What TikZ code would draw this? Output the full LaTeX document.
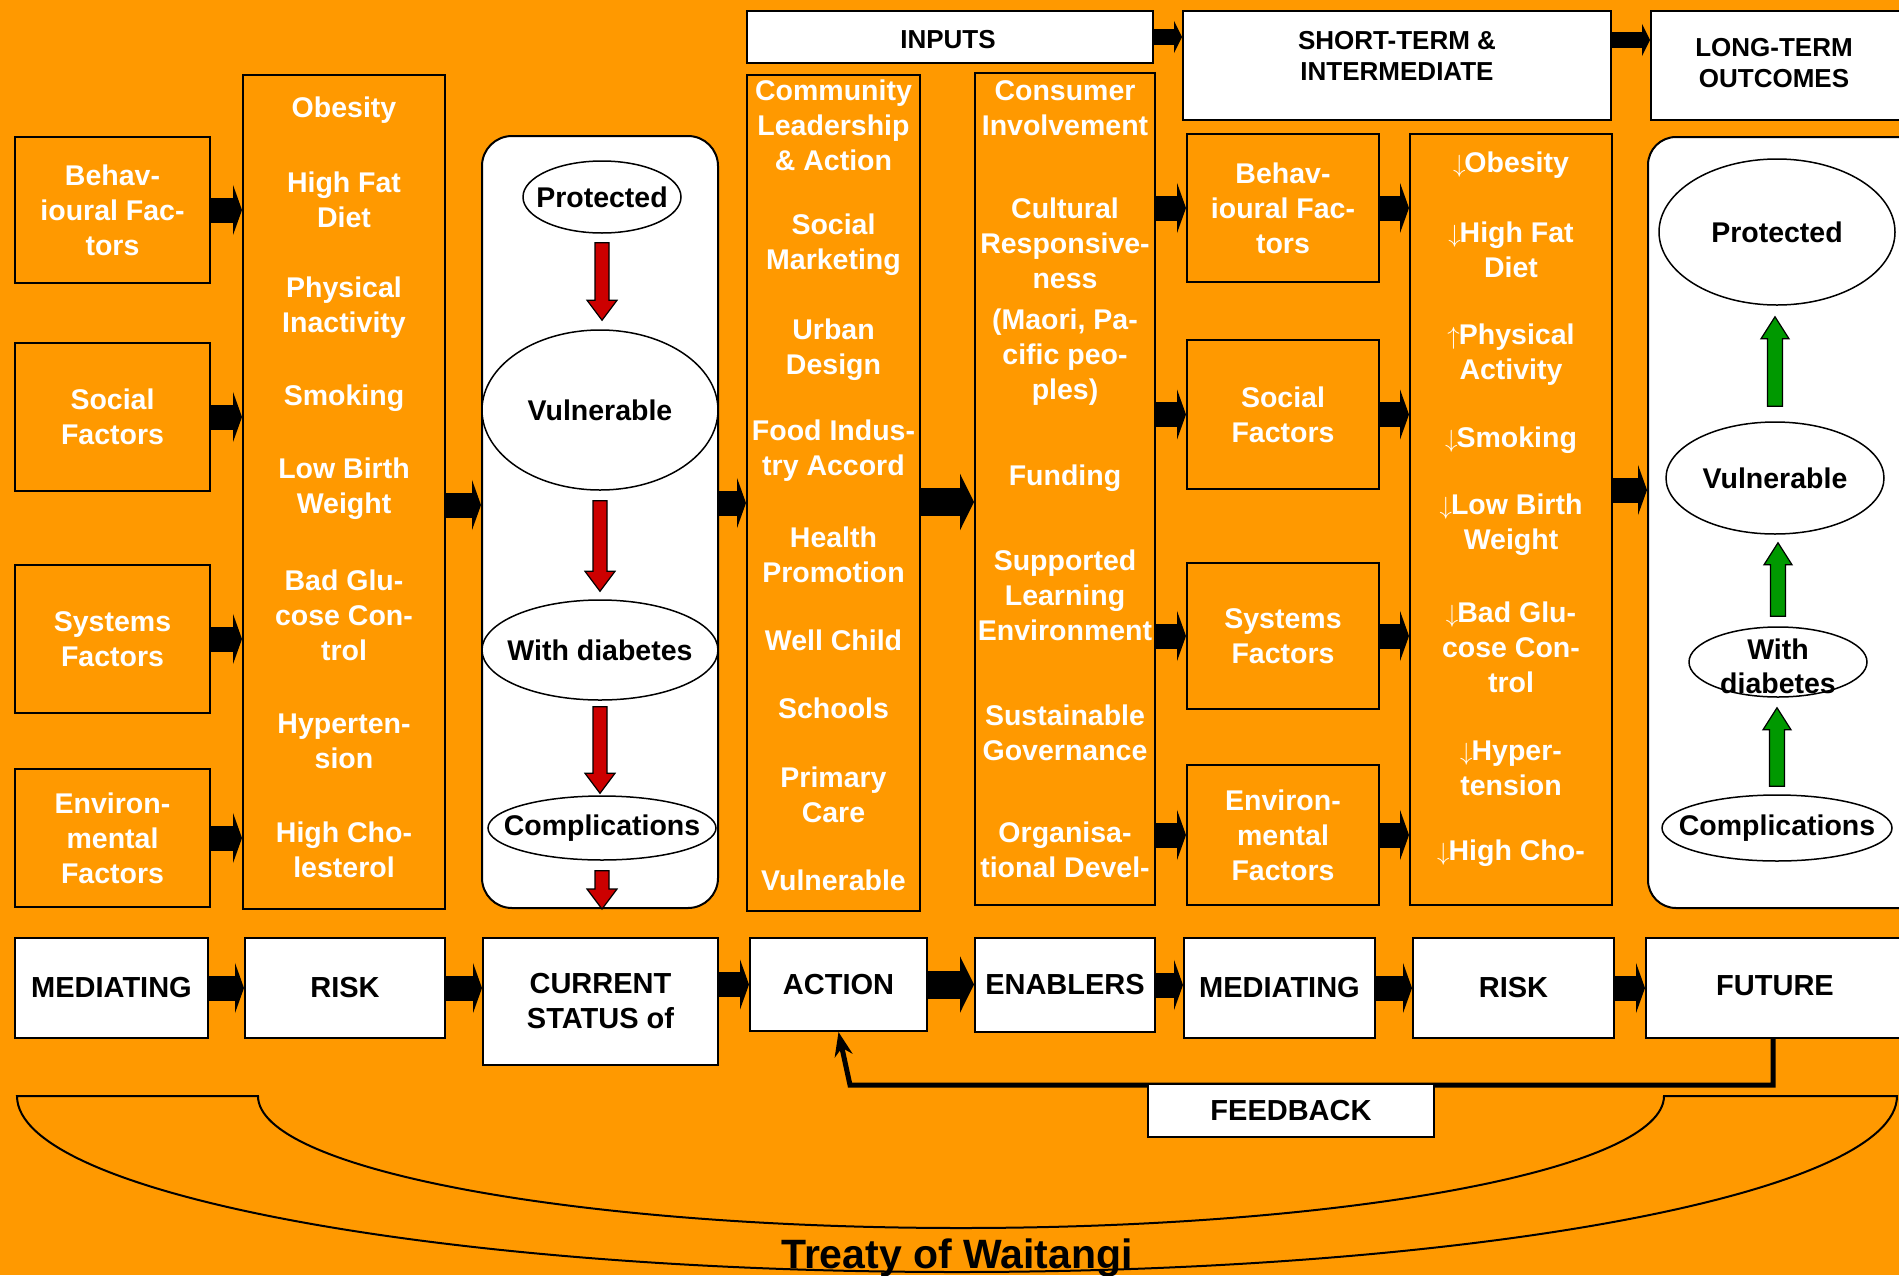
\documentclass[tikz,border=0pt]{standalone}
\usepackage{fontspec}
\setmainfont{Liberation Sans}
\usetikzlibrary{arrows.meta,shapes.geometric,calc}
\definecolor{bg}{RGB}{255,153,0}
\definecolor{redar}{RGB}{204,0,0}
\definecolor{greenar}{RGB}{0,153,0}
\newcommand\fsz[2]{\fontsize{#1}{#2}\selectfont}
\newcommand\myDn{\(\downarrow\)\kern-1pt}
\newcommand\myUp{\(\uparrow\)\kern-1pt}
\newcommand\redarrow[2]{%
  \draw[line width=1.2pt, fill=redar] let \p1=#1, \p2=#2 in
    (\x1-7pt,\y1) -- (\x1-7pt,\y2+20pt) -- (\x1-15pt,\y2+20pt) -- (\x1,\y2)
    -- (\x1+15pt,\y2+20pt) -- (\x1+7pt,\y2+20pt) -- (\x1+7pt,\y1) -- cycle;}
\newcommand\greenarrow[2]{%
  \draw[line width=1.2pt, fill=greenar] let \p1=#1, \p2=#2 in
    (\x1-7.5pt,\y1) -- (\x1-7.5pt,\y2-22pt) -- (\x1-14pt,\y2-22pt) -- (\x1,\y2)
    -- (\x1+14pt,\y2-22pt) -- (\x1+7.5pt,\y2-22pt) -- (\x1+7.5pt,\y1) -- cycle;}
\begin{document}
\begin{tikzpicture}[x=1pt,y=-1pt,
  obox/.style={draw, line width=2pt, fill=bg, inner sep=0pt, text=white, font=\bfseries\fsz{28.5}{35}, align=center},
  wbox/.style={draw, line width=2pt, fill=white, inner sep=0pt, font=\bfseries\fsz{29}{35}, align=center},
  wt/.style={text=white, font=\bfseries\fsz{28.5}{35}, align=center, inner sep=0pt},
  bt/.style={text=black, font=\bfseries\fsz{28.5}{35}, align=center, inner sep=0pt},
  ht/.style={text=black, font=\bfseries\fsz{26}{31}, align=center, inner sep=0pt},
  ell/.style={ellipse, draw, line width=1.5pt, fill=white, inner sep=0pt},
  capsule/.style={draw, line width=2pt, fill=white, rounded corners=30pt, inner sep=0pt},
  blk/.style={line width=25pt, -{Triangle[length=9pt,width=50pt]}},
  blks/.style={line width=16pt, -{Triangle[length=8pt,width=32pt]}},
  blkb/.style={line width=28pt, -{Triangle[length=14pt,width=56pt]}},
  fbl/.style={line width=5pt, -{Stealth[length=24pt,width=18pt]}}]
\useasboundingbox (0,0) rectangle (1899,1275);
\clip (0,0) rectangle (1899,1275);
\fill[bg] (0,0) rectangle (1899,1275);

% Treaty bracket
\draw[line width=2pt] (17,1096) -- (258,1096)
  arc[start angle=180,end angle=0,x radius=703,y radius=132] -- (1897,1096)
  arc[start angle=0,end angle=180,x radius=940,y radius=176] -- cycle;
\node[font=\bfseries\fsz{41}{41}, anchor=base, inner sep=0pt] (treaty) at (957,1268) {Treaty of Waitangi};

% headers
\node[wbox, minimum width=406pt, minimum height=52pt] (inputs) at (950,37) {};
\node[ht] (inputst) at (948,40) {INPUTS};
\node[wbox, minimum width=428pt, minimum height=109pt] (short) at (1397,65.5) {};
\node[ht] (shortt) at (1397,56) {SHORT-TERM \&\\INTERMEDIATE};
\node[wbox, minimum width=290pt, minimum height=109pt] (long) at (1796,65.5) {};
\node[ht] (longt) at (1774,63) {LONG-TERM\\OUTCOMES};

% left factor boxes
\node[obox, minimum width=195pt, minimum height=146pt] (lb1) at (112.5,210) {Behav-\\ioural Fac-\\tors};
\node[obox, minimum width=195pt, minimum height=148pt] (lb2) at (112.5,417) {Social\\Factors};
\node[obox, minimum width=195pt, minimum height=148pt] (lb3) at (112.5,639) {Systems\\Factors};
\node[obox, minimum width=195pt, minimum height=138pt] (lb4) at (112.5,838) {Environ-\\mental\\Factors};

% risk column
\node[obox, minimum width=202pt, minimum height=834pt] (riskcol) at (344,492) {};
\node[wt] (r1) at (344,110) {Obesity};
\node[wt] (r2) at (344,199.5) {High Fat\\Diet};
\node[wt] (r3) at (344,307.5) {Physical\\Inactivity};
\node[wt] (r4) at (344,398) {Smoking};
\node[wt] (r5) at (344,489) {Low Birth\\Weight};
\node[wt] (r6) at (344,615) {Bad Glu-\\cose Con-\\trol};
\node[wt] (r7) at (344,741) {Hyperten-\\sion};
\node[wt] (r8) at (344,849.5) {High Cho-\\lesterol};

% left capsule
\node[capsule, minimum width=236pt, minimum height=772pt] (capL) at (600,522) {};
\node[ell, minimum width=158pt, minimum height=72pt] (lp) at (602,197) {};
\node[bt] (lpt) at (lp) {Protected};
\node[ell, minimum width=236pt, minimum height=160pt] (lv) at (600,410) {};
\node[bt] (lvt) at (lv) {Vulnerable};
\node[ell, minimum width=236pt, minimum height=100pt] (lw) at (600,650) {};
\node[bt] (lwt) at (lw) {With diabetes};
\node[ell, minimum width=228pt, minimum height=64pt] (lc) at (602,828) {};
\node[bt] (lct) at (lc) {Complications};
\redarrow{($(lp.south)+(0,9)$)}{($(lv.north)+(0,-9)$)}
\redarrow{($(lv.south)+(0,10)$)}{($(lw.north)+(0,-8)$)}
\redarrow{($(lw.south)+(0,6)$)}{($(lc.north)+(0,-2)$)}
\redarrow{($(lc.south)+(0,10)$)}{(capL.south)}

% community column
\node[obox, minimum width=173pt, minimum height=836pt] (comm) at (833.5,493) {};
\node[wt] (c1) at (833.5,125) {Community\\Leadership\\\& Action};
\node[wt] (c2) at (833.5,245) {Social\\Marketing};
\node[wt] (c3) at (833.5,350) {Urban\\Design};
\node[wt] (c4) at (833.5,451) {Food Indus-\\try Accord};
\node[wt] (c5) at (833.5,555) {Health\\Promotion};
\node[wt] (c6) at (833.5,640) {Well Child};
\node[wt] (c7) at (833.5,708) {Schools};
\node[wt] (c8) at (833.5,795) {Primary\\Care};
\node[wt] (c9) at (833.5,880) {Vulnerable};

% consumer column
\node[obox, minimum width=180pt, minimum height=832pt] (cons) at (1065,489) {};
\node[wt] (k1) at (1065,108) {Consumer\\Involvement};
\node[wt] (k2) at (1065,243) {Cultural\\Responsive-\\ness};
\node[wt] (k3) at (1065,357) {(Maori, Pa-\\cific peo-\\ples)};
\node[wt] (k4) at (1065,478) {Funding};
\node[wt] (k5) at (1065,595) {Supported\\Learning\\Environment};
\node[wt] (k6) at (1065,733) {Sustainable\\Governance};
\node[wt] (k7) at (1065,850) {Organisa-\\tional Devel-};

% right factor boxes
\node[obox, minimum width=192pt, minimum height=148pt] (rb1) at (1283,208) {Behav-\\ioural Fac-\\tors};
\node[obox, minimum width=192pt, minimum height=149pt] (rb2) at (1283,414.5) {Social\\Factors};
\node[obox, minimum width=192pt, minimum height=146pt] (rb3) at (1283,636) {Systems\\Factors};
\node[obox, minimum width=192pt, minimum height=140pt] (rb4) at (1283,835) {Environ-\\mental\\Factors};

% risk column 2
\node[obox, minimum width=202pt, minimum height=771pt] (risk2) at (1511,519.5) {};
\node[wt] (s1) at (1511,165) {\myDn Obesity};
\node[wt] (s2) at (1511,250) {\myDn High Fat\\Diet};
\node[wt] (s3) at (1511,355) {\myUp Physical\\Activity};
\node[wt] (s4) at (1511,440) {\myDn Smoking};
\node[wt] (s5) at (1511,525) {\myDn Low Birth\\Weight};
\node[wt] (s6) at (1511,647) {\myDn Bad Glu-\\cose Con-\\trol};
\node[wt] (s7) at (1511,768) {\myDn Hyper-\\tension};
\node[wt] (s8) at (1511,853) {\myDn High Cho-};

% right capsule
\node[capsule, rounded corners=28pt, minimum width=292pt, minimum height=771pt] (capR) at (1794,522.5) {};
\node[ell, minimum width=236pt, minimum height=146pt] (rp) at (1777,232) {};
\node[bt] (rpt) at (rp) {Protected};
\node[ell, minimum width=218pt, minimum height=112pt] (rv) at (1775,478) {};
\node[bt] (rvt) at (rv) {Vulnerable};
\node[ell, minimum width=178pt, minimum height=70pt] (rw) at (1778,662) {};
\node[bt, font=\bfseries\fsz{28.5}{34}] (rwt) at ($(rw)+(0,4)$) {With\\diabetes};
\node[ell, minimum width=230pt, minimum height=66pt] (rc) at (1777,828) {};
\node[bt] (rct) at (rc) {Complications};
\greenarrow{($(rc.north)+(0,-8)$)}{($(rw.south)+(0,10)$)}
\greenarrow{($(rw.north)+(0,-10)$)}{($(rv.south)+(0,8)$)}
\greenarrow{($(rv.north)+(0,-15)$)}{($(rp.south)+(0,11)$)}

% block arrows, middle row
\foreach \i in {1,...,4} {\draw[blk] (lb\i.east) -- (lb\i.east -| riskcol.west);}
\coordinate (a1) at ($(riskcol.east)+(0,13)$);
\draw[blk] (a1) -- (a1 -| capL.west);
\coordinate (a2) at ($(capL.east)+(0,-19)$);
\draw[blk] (a2) -- (a2 -| comm.west);
\coordinate (a3) at ($(comm.east)+(0,9)$);
\draw[blkb] (a3) -- (a3 -| cons.west);
\foreach \i in {1,...,4} {
  \draw[blk] (rb\i.west -| cons.east) -- (rb\i.west);
  \draw[blk] (rb\i.east) -- (rb\i.east -| risk2.west);}
\coordinate (a4) at ($(risk2.east)+(0,-29.5)$);
\draw[blk] (a4) -- (a4 -| capR.west);

% top arrows
\draw[blks] (inputs.east) -- (inputs.east -| short.west);
\coordinate (a5) at ($(short.east)+(0,-25.5)$);
\draw[blks] (a5) -- (a5 -| long.west);

% bottom row
\node[wbox, minimum width=193pt, minimum height=100pt] (bm1) at (111.5,988) {MEDIATING};
\node[wbox, minimum width=200pt, minimum height=100pt] (bm2) at (345,988) {RISK};
\node[wbox, minimum width=235pt, minimum height=127pt] (cur) at (600.5,1001.5) {CURRENT\\STATUS of};
\node[wbox, minimum width=177pt, minimum height=93pt] (act) at (838.5,984.5) {ACTION};
\node[wbox, minimum width=180pt, minimum height=94pt] (ena) at (1065,985) {ENABLERS};
\node[wbox, minimum width=191pt, minimum height=100pt] (bm3) at (1279.5,988) {MEDIATING};
\node[wbox, minimum width=201pt, minimum height=100pt] (bm4) at (1513.5,988) {RISK};
\node[wbox, minimum width=294pt, minimum height=100pt] (fut) at (1793,988) {};
\node[bt, font=\bfseries\fsz{29}{35}] (futt) at (1775,986) {FUTURE};

\draw[blk] (bm1.east) -- (bm2.west);
\draw[blk] (bm2.east) -- (bm2.east -| cur.west);
\draw[blk] (act.west -| cur.east) -- (act.west);
\draw[blkb] (act.east) -- (act.east -| ena.west);
\draw[blk] (ena.east) -- (ena.east -| bm3.west);
\draw[blk] (bm3.east) -- (bm4.west);
\draw[blk] (bm4.east) -- (bm4.east -| fut.west);

% feedback
\coordinate (fbstart) at ($(fut.south west)+(128,0)$);
\coordinate (fbcorner) at (850,1085);
\draw[fbl] (fbstart) |- (fbcorner) -- (act.south);
\node[wbox, minimum width=286pt, minimum height=53pt] (fb) at (1291,1110.5) {FEEDBACK};
\end{tikzpicture}
\end{document}
